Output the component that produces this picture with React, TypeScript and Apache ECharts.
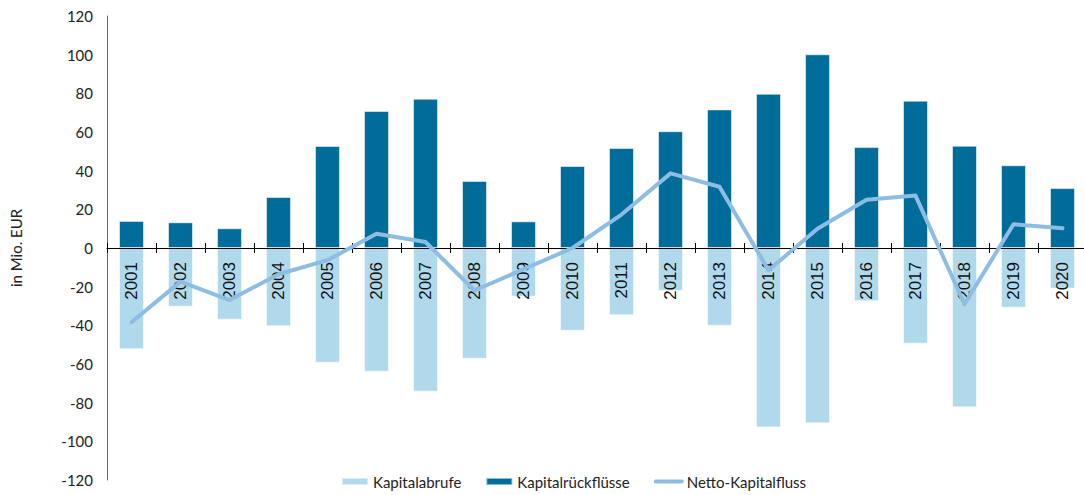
import React, { useEffect, useRef } from "react";
import * as echarts from "echarts";

const years = ["2001","2002","2003","2004","2005","2006","2007","2008","2009","2010","2011","2012","2013","2014","2015","2016","2017","2018","2019","2020"];
const kapitalabrufe = [-52.4,-30.4,-37.1,-40.5,-59.3,-64.0,-74.3,-57.3,-25.2,-42.8,-34.8,-22.2,-40.2,-92.8,-90.7,-27.6,-49.5,-82.4,-30.9,-21.0];
const kapitalrueckfluesse = [14.0,13.3,10.2,26.4,52.8,70.9,77.2,34.7,13.8,42.4,51.7,60.4,71.7,79.8,100.2,52.2,76.2,52.9,42.8,31.0];
const nettoKapitalfluss = [-38.4,-17.4,-26.9,-13.6,-6.3,7.4,3.1,-22.0,-11.0,0.0,17.3,38.6,31.7,-11.5,10.0,25.0,27.1,-29.0,12.3,10.2];
const yMin = -120;
const yMax = 120;
const yStep = 20;

export default function App() {
  const ref = useRef<HTMLDivElement>(null);
  useEffect(() => {
    if (!ref.current) return;
    const chart = echarts.init(ref.current, null, { renderer: "svg" });
    const barBorder = { borderColor: "rgba(255,255,255,0.55)", borderWidth: 1 };
    const left = 107;
    const top = 16;
    const width = 980;
    const height = 464;
    // upper half of the plot: its bottom edge is the zero line
    const upperHeight = (height * yMax) / (yMax - yMin);
    const gridMain = { left, top, width, height, containLabel: false, outerBoundsMode: "none" };
    const gridUpper = { left, top, width, height: upperHeight, containLabel: false, outerBoundsMode: "none" };
    const hiddenY = (gi: number) => ({
      type: "value",
      gridIndex: gi,
      min: 0,
      max: 1,
      show: false,
      splitLine: { show: false },
    });
    chart.setOption({
      animation: false,
      grid: [gridMain, gridUpper, { ...gridUpper }],
      legend: {
        left: 336,
        top: 469,
        itemWidth: 26,
        itemHeight: 7,
        itemGap: 24,
        textStyle: { fontFamily: "Lato", fontSize: 15, color: "#222" },
        data: [
          { name: "Kapitalabrufe", icon: "rect" },
          { name: "Kapitalrückflüsse", icon: "rect" },
          {
            name: "Netto-Kapitalfluss",
            itemStyle: { opacity: 0 },
            lineStyle: { width: 4, color: "#8dbde2", cap: "round" },
          },
        ],
      },
      graphic: [
        {
          type: "text",
          x: 16,
          y: 248,
          rotation: Math.PI / 2,
          style: {
            text: "in Mio. EUR",
            fontFamily: "Lato",
            fontSize: 15,
            fill: "#222",
            textAlign: "center",
            textVerticalAlign: "middle",
          },
        },
      ],
      xAxis: [
        {
          type: "category",
          gridIndex: 0,
          data: years,
          show: false,
        },
        {
          type: "category",
          gridIndex: 1,
          data: years,
          position: "bottom",
          z: 3,
          axisLine: { onZero: false, lineStyle: { color: "#000", width: 1 } },
          axisTick: { show: true, length: 5, lineStyle: { color: "#000" } },
          axisLabel: {
            rotate: 90,
            margin: 14,
            fontFamily: "Liberation Sans",
            fontSize: 17,
            color: "#111",
          },
        },
        {
          type: "category",
          gridIndex: 2,
          data: years,
          position: "bottom",
          z: 3,
          axisLine: { show: false, onZero: false },
          axisTick: { show: true, inside: true, length: 5, lineStyle: { color: "#000" } },
          axisLabel: { show: false },
        },
      ],
      yAxis: [
        {
          type: "value",
          gridIndex: 0,
          min: yMin,
          max: yMax,
          interval: yStep,
          axisLine: { show: true, lineStyle: { color: "#666" } },
          axisTick: { show: false },
          splitLine: { show: false },
          axisLabel: { fontFamily: "Lato", fontSize: 15, color: "#222", margin: 14 },
        },
        hiddenY(1),
        hiddenY(2),
      ],
      series: [
        {
          name: "Kapitalabrufe",
          type: "bar",
          stack: "k",
          barWidth: 25,
          data: kapitalabrufe,
          itemStyle: { color: "#b0daec", ...barBorder },
          z: 2,
        },
        {
          name: "Kapitalrückflüsse",
          type: "bar",
          stack: "k",
          barWidth: 25,
          data: kapitalrueckfluesse,
          itemStyle: { color: "#006c99", ...barBorder },
          z: 2,
        },
        {
          name: "Netto-Kapitalfluss",
          type: "line",
          data: nettoKapitalfluss,
          symbol: "none",
          lineStyle: { color: "#8dbde2", width: 4, cap: "round", join: "round" },
          itemStyle: { color: "#8dbde2" },
          z: 5,
        },
      ],
    });
    return () => chart.dispose();
  }, []);
  return (
    <div
      ref={ref}
      style={{ position: "absolute", left: 0, top: 0, width: 1084, height: 495, background: "#fff" }}
    />
  );
}
